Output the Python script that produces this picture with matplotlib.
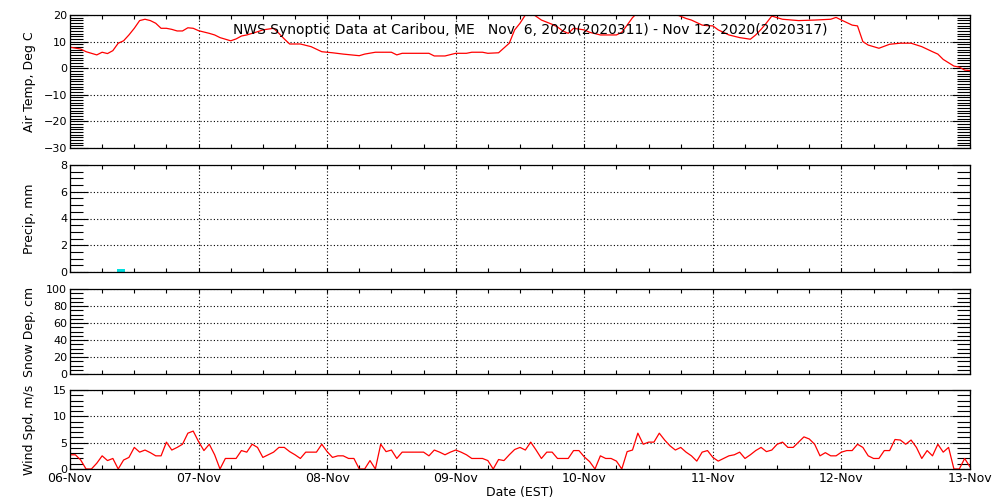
import matplotlib
matplotlib.use('Agg')
import matplotlib.pyplot as plt
from matplotlib.ticker import MultipleLocator

# hours since 06-Nov 00:00 EST
temp_hours = [0, 2, 3, 5, 6, 7, 8, 9, 10, 11, 12, 13, 14, 15, 16, 17, 18, 19, 20, 21,
              22, 23, 24, 26, 27, 28, 30, 31, 32, 33, 35, 36, 38, 39, 40, 41, 43, 45, 47, 49,
              51, 54, 55, 57, 60, 61, 62, 67, 68, 70, 72, 74, 75, 77, 78, 80, 82, 83, 84, 85,
              86, 87, 88, 90, 91, 92, 93, 94, 96, 97, 99, 102, 103, 104, 105, 106, 107, 108, 109, 110,
              111, 112, 113, 115, 116, 118, 119, 120, 121, 123, 125, 127, 128, 129, 130, 131, 133, 136, 139, 142,
              143, 144, 146, 147, 148, 149, 151, 153, 155, 157, 159, 161, 162, 163, 165, 166, 167, 168]
temp_vals = [7.9, 7.2, 6.2, 5.0, 6.0, 5.5, 6.6, 9.4, 10.3, 12.5, 15.0, 17.9, 18.4, 17.9, 16.9, 15.0, 15.0, 14.6, 14.0, 14.0,
             15.2, 15.0, 14.1, 13.1, 12.5, 11.5, 10.3, 11.0, 12.1, 12.5, 13.7, 14.4, 15.0, 13.1, 11.0, 9.1, 9.1, 8.1, 6.2, 5.8,
             5.3, 4.7, 5.3, 6.0, 6.0, 5.0, 5.6, 5.6, 4.6, 4.6, 5.6, 5.6, 6.0, 6.0, 5.6, 5.8, 9.4, 14.4, 16.9, 20.0,
             21.0, 19.5, 18.1, 16.5, 15.5, 14.0, 13.1, 15.0, 14.4, 13.5, 12.5, 12.5, 13.5, 16.2, 19.0, 21.0, 22.0, 23.0, 23.5, 23.5,
             23.0, 22.0, 20.3, 18.7, 18.1, 16.2, 16.0, 15.9, 14.4, 12.5, 11.5, 10.9, 12.5, 14.6, 17.0, 19.6, 18.4, 17.9, 18.1, 18.4,
             19.1, 18.1, 16.2, 15.9, 10.0, 8.7, 7.5, 9.0, 9.4, 9.4, 8.1, 6.2, 5.3, 3.3, 0.8, 0.4, -0.7, -0.9]

# hourly wind speed, hour 0 .. 168
wind_speed = [2.7, 2.7, 1.7, 0, 0, 1.1, 2.5, 1.6, 2.0, 0, 1.7, 2.2, 4.1, 3.2, 3.6, 3.1, 2.5, 2.5, 5.1, 3.6, 4.1, 4.7, 6.8, 7.2,
              5.2, 3.5, 4.7, 2.7, 0, 2.0, 2.0, 2.0, 3.5, 3.2, 4.7, 4.1, 2.2, 2.7, 3.2, 4.1, 4.1, 3.3, 2.7, 2.0, 3.2, 3.2, 3.2, 4.7,
              3.3, 2.2, 2.5, 2.5, 2.0, 2.0, 0, 0, 1.6, 0, 4.7, 3.3, 3.6, 2.0, 3.2, 3.2, 3.2, 3.2, 3.2, 2.5, 3.6, 3.2, 2.7, 3.2,
              3.6, 3.2, 2.7, 2.0, 2.0, 2.0, 1.6, 0, 1.8, 1.6, 2.7, 3.7, 4.1, 3.6, 5.1, 3.6, 2.0, 3.2, 3.2, 2.0, 2.0, 2.0, 3.5, 3.5,
              2.3, 1.4, 0, 2.5, 2.0, 2.0, 1.5, 0, 3.3, 3.6, 6.8, 4.7, 5.1, 5.1, 6.8, 5.5, 4.4, 3.6, 4.1, 3.2, 2.5, 1.5, 3.2, 3.5,
              2.2, 1.5, 2.0, 2.5, 2.7, 3.2, 2.0, 2.7, 3.5, 4.1, 3.3, 3.6, 4.7, 5.1, 4.1, 4.1, 5.1, 6.1, 5.7, 4.7, 2.5, 3.1, 2.5, 2.5,
              3.2, 3.5, 3.5, 4.7, 4.1, 2.5, 2.0, 2.0, 3.5, 3.5, 5.6, 5.5, 4.7, 5.5, 4.1, 2.0, 3.5, 2.5, 4.7, 3.2, 4.1, 0, 0, 2.0,
              0.4]
wind_hours = list(range(len(wind_speed)))

precip_hours = [9.5]
precip_vals = [0.2]

snow_hours = []
snow_vals = []

day_labels = ['06-Nov', '07-Nov', '08-Nov', '09-Nov', '10-Nov', '11-Nov', '12-Nov', '13-Nov']
title = 'NWS Synoptic Data at Caribou, ME   Nov  6, 2020(2020311) - Nov 12, 2020(2020317)'


def style_axis(ax, ymin, ymax, major, minor, ylabel):
    ax.set_xlim(0, 168)
    ax.set_ylim(ymin, ymax)
    ax.xaxis.set_major_locator(MultipleLocator(24))
    ax.xaxis.set_minor_locator(MultipleLocator(6))
    ax.yaxis.set_major_locator(MultipleLocator(major))
    ax.yaxis.set_minor_locator(MultipleLocator(minor))
    ax.tick_params(axis='both', which='both', direction='in', top=True, right=True,
                   width=0.8, labelsize=8, pad=2)
    ax.tick_params(axis='y', which='major', length=13)
    ax.tick_params(axis='y', which='minor', length=9.5)
    ax.tick_params(axis='x', which='both', length=3)
    ax.grid(True, which='major', color='black', linestyle=(0, (1, 2)), linewidth=0.8)
    for s in ax.spines.values():
        s.set_linewidth(0.9)
    ax.set_xticklabels([])
    # y label centred at x ~ 29 px, like the original
    pos = ax.get_position()
    fig.text(0.029, pos.y0 + pos.height / 2, ylabel, rotation=90,
             ha='center', va='center', fontsize=9)


fig = plt.figure(figsize=(10, 5), dpi=100)
ax1 = fig.add_axes([0.07, 0.704, 0.90, 0.266])
ax2 = fig.add_axes([0.07, 0.456, 0.90, 0.214])
ax3 = fig.add_axes([0.07, 0.252, 0.90, 0.170])
ax4 = fig.add_axes([0.07, 0.062, 0.90, 0.158])

# air temperature
style_axis(ax1, -30, 20, 10, 1, 'Air Temp, Deg C')
ax1.plot(temp_hours, temp_vals, color='red', linewidth=0.9)
ax1.text(0.511, 0.89, title, transform=ax1.transAxes, ha='center', va='center', fontsize=10)

# precipitation
style_axis(ax2, 0, 8, 2, 0.5, 'Precip, mm')
ax2.bar(precip_hours, precip_vals, width=1.5, color='#00e0e0')

# snow depth
style_axis(ax3, 0, 100, 20, 5, 'Snow Dep, cm')
ax3.plot(snow_hours, snow_vals, color='red', linewidth=0.9)

# wind speed
style_axis(ax4, 0, 15, 5, 1, 'Wind Spd, m/s')
ax4.plot(wind_hours, wind_speed, color='red', linewidth=0.9)
ax4.set_xticks(range(0, 169, 24))
ax4.set_xticklabels(day_labels, fontsize=9)
ax4.set_xlabel('Date (EST)', fontsize=9, labelpad=1)

# the bottom "0" sits a little above its tick in the original, clear of the date
ax4.yaxis.get_major_ticks()[0].label1.set_verticalalignment('bottom')

fig.savefig('out.png', dpi=100)
